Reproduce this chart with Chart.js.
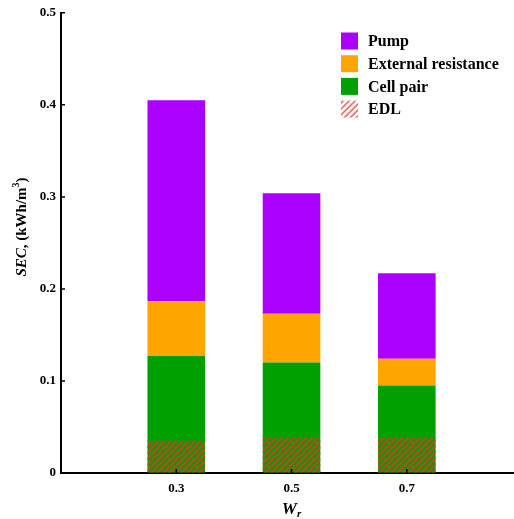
<!DOCTYPE html>
<html><head><meta charset="utf-8">
<script src="https://cdn.jsdelivr.net/npm/chart.js@4.4.0/dist/chart.umd.min.js"></script>
<style>html,body{margin:0;padding:0;background:#fff;overflow:hidden}#wrap{width:514px;height:519px;position:relative}</style>
</head><body><div id="wrap"><canvas id="c"></canvas></div>
<script>
// ---- data ----
const categories = [0.3, 0.5, 0.7];
const cellPair = [0.127, 0.120, 0.095];
const externalResistance = [0.060, 0.053, 0.029];
const pump = [0.218, 0.131, 0.093];
const edl = [0.035, 0.039, 0.039];
const yTicks = [0, 0.1, 0.2, 0.3, 0.4, 0.5];
const seriesNames = ['Pump', 'External resistance', 'Cell pair', 'EDL'];

const FONT = "'Liberation Serif', 'Times New Roman', serif";
const COLORS = { pump: '#aa00ff', ext: '#ffa500', cell: '#00a000', edl: '#d83a2a' };

function makeHatch(color) {
  const s = 6;
  const c = document.createElement('canvas');
  c.width = s; c.height = s;
  const g = c.getContext('2d');
  g.strokeStyle = color; g.lineWidth = 1.6;
  g.beginPath();
  g.moveTo(-1, s + 1); g.lineTo(s + 1, -1);
  g.moveTo(-1, 1); g.lineTo(1, -1);
  g.moveTo(s - 1, s + 1); g.lineTo(s + 1, s - 1);
  g.stroke();
  return g.createPattern(c, 'repeat');
}
const ctx0 = document.getElementById('c').getContext('2d');
const hatch = makeHatch(COLORS.edl);

const pts = arr => arr.map((v, i) => ({ x: categories[i], y: v }));

const decor = {
  id: 'decor',
  afterDraw(chart) {
    const { ctx, chartArea, scales } = chart;
    const xs = scales.x, ys = scales.y;
    ctx.save();
    // inward ticks
    ctx.strokeStyle = '#000'; ctx.lineWidth = 1.5;
    ctx.beginPath();
    yTicks.forEach(v => { const y = ys.getPixelForValue(v); ctx.moveTo(chartArea.left, y); ctx.lineTo(chartArea.left + 4, y); });
    categories.forEach(v => { const x = xs.getPixelForValue(v); ctx.moveTo(x, chartArea.bottom); ctx.lineTo(x, chartArea.bottom - 4); });
    ctx.stroke();

    // y title
    ctx.fillStyle = '#000';
    ctx.save();
    ctx.translate(22, 227);
    ctx.rotate(-Math.PI / 2);
    const parts = [
      { t: 'SEC', f: `italic bold 15px ${FONT}`, dy: 0 },
      { t: ', (kWh/m', f: `bold 15px ${FONT}`, dy: 0 },
      { t: '3', f: `bold 10px ${FONT}`, dy: -6 },
      { t: ')', f: `bold 15px ${FONT}`, dy: 0 }
    ];
    let total = 0;
    parts.forEach(p => { ctx.font = p.f; p.w = ctx.measureText(p.t).width; total += p.w; });
    let x = -total / 2;
    ctx.textBaseline = 'middle'; ctx.textAlign = 'left';
    parts.forEach(p => { ctx.font = p.f; ctx.fillText(p.t, x, p.dy); x += p.w; });
    ctx.restore();

    // x title
    const cx = xs.getPixelForValue(0.5);
    ctx.textBaseline = 'alphabetic'; ctx.textAlign = 'left';
    ctx.font = `italic bold 17px ${FONT}`;
    const wW = ctx.measureText('W').width;
    ctx.font = `italic bold 11px ${FONT}`;
    const rW = ctx.measureText('r').width;
    let sx = cx - (wW + rW) / 2;
    ctx.font = `italic bold 17px ${FONT}`;
    ctx.fillText('W', sx, 514);
    ctx.font = `italic bold 11px ${FONT}`;
    ctx.fillText('r', sx + wW, 517);

    // legend
    const fills = [COLORS.pump, COLORS.ext, COLORS.cell, null];
    ctx.font = `bold 16px ${FONT}`;
    ctx.textBaseline = 'middle';
    seriesNames.forEach((name, i) => {
      const yc = 41 + i * 22.7;
      if (fills[i]) { ctx.fillStyle = fills[i]; ctx.fillRect(341, yc - 8.5, 17, 17); }
      else { ctx.fillStyle = hatch; ctx.globalAlpha = 0.7; ctx.fillRect(341, yc - 8.5, 17, 17); ctx.globalAlpha = 1; }
      ctx.fillStyle = '#000';
      ctx.fillText(name, 368, yc + 1);
    });
    ctx.restore();
  }
};

new Chart(ctx0, {
  type: 'bar',
  data: {
    datasets: [
      { label: seriesNames[2], data: pts(cellPair), backgroundColor: COLORS.cell, stack: 'main', order: 1 },
      { label: seriesNames[1], data: pts(externalResistance), backgroundColor: COLORS.ext, stack: 'main', order: 1 },
      { label: seriesNames[0], data: pts(pump), backgroundColor: COLORS.pump, stack: 'main', order: 1 },
      { label: seriesNames[3], data: pts(edl), backgroundColor: hatch, stack: 'edl', order: 0 }
    ]
  },
  options: {
    responsive: true,
    maintainAspectRatio: false,
    animation: false,
    layout: { padding: { top: 12, right: 0, left: 0, bottom: 0 } },
    datasets: { bar: { grouped: false, barPercentage: 0.5, categoryPercentage: 1.0, borderWidth: 0 } },
    plugins: { legend: { display: false }, tooltip: { enabled: false } },
    scales: {
      x: {
        type: 'linear', min: 0.1, max: 0.886, stacked: true, offset: false,
        afterBuildTicks: s => { s.ticks = categories.map(v => ({ value: v })); },
        ticks: { color: '#000', font: { family: FONT, size: 13, weight: 'bold' }, padding: 8, callback: v => v.toFixed(1), maxRotation: 0, autoSkip: false },
        grid: { display: true, drawOnChartArea: false, drawTicks: false, offset: false },
        border: { display: true, color: '#000', width: 2 },
        afterFit: s => { s.height = 46; }
      },
      y: {
        min: 0, max: 0.5, stacked: true,
        afterBuildTicks: s => { s.ticks = yTicks.map(v => ({ value: v })); },
        ticks: { color: '#000', font: { family: FONT, size: 13, weight: 'bold' }, padding: 5, callback: v => v === 0 ? '0' : v.toFixed(1) },
        grid: { display: true, drawOnChartArea: false, drawTicks: false },
        border: { display: true, color: '#000', width: 2 },
        afterFit: s => { s.width = 61; }
      }
    }
  },
  plugins: [decor]
});
</script>
</body></html>
